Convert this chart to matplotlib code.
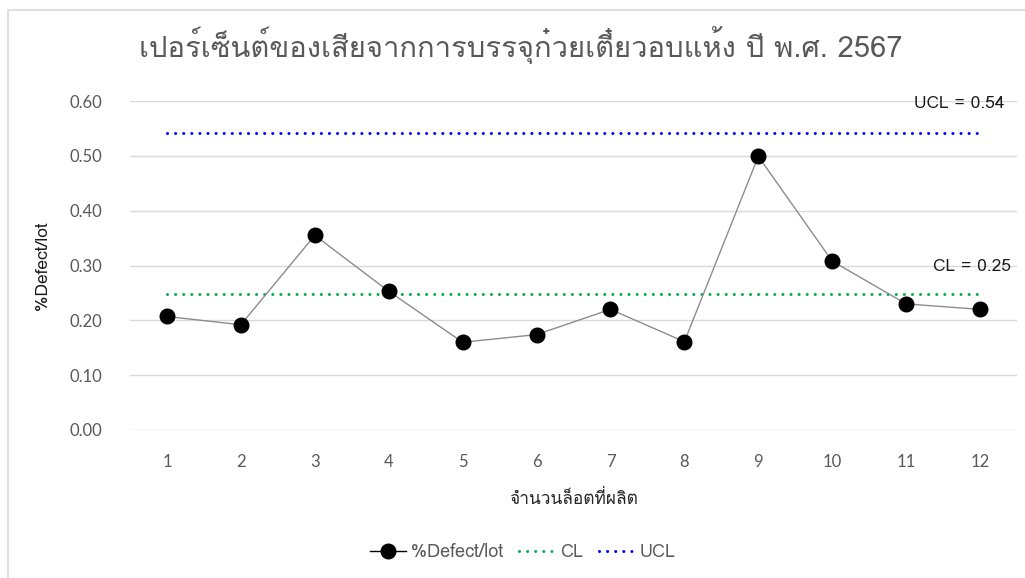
import matplotlib
matplotlib.use("Agg")
import matplotlib.pyplot as plt
from matplotlib import font_manager
from matplotlib.ft2font import FT2Font
from matplotlib.patches import Rectangle
from matplotlib.lines import Line2D

# ---------------- data ----------------
lots = [1, 2, 3, 4, 5, 6, 7, 8, 9, 10, 11, 12]
defect_pct = [0.207, 0.192, 0.355, 0.253, 0.160, 0.174, 0.220, 0.161, 0.499, 0.308, 0.230, 0.220]
cl_value = 0.248
ucl_value = 0.542
y_ticks = [0.0, 0.1, 0.2, 0.3, 0.4, 0.5, 0.6]
title_text = "เปอร์เซ็นต์ของเสียจากการบรรจุก๋วยเตี๋ยวอบแห้ง ปี พ.ศ. 2567"
x_label = "จำนวนล็อตที่ผลิต"
y_label = "%Defect/lot"
series_names = ["%Defect/lot", "CL", "UCL"]
cl_label = "CL = 0.25"
ucl_label = "UCL = 0.54"


def find_thai_family():
    for f in font_manager.fontManager.ttflist:
        try:
            cm = FT2Font(f.fname).get_charmap()
        except Exception:
            continue
        if 0x0E01 in cm and 0x0E35 in cm and 0x0E48 in cm:
            return f.name
    return None


thai = find_thai_family()
fams = ([thai] if thai else []) + ["Noto Sans", "DejaVu Sans"]
plt.rcParams["font.family"] = fams
latin = ["Lato", "DejaVu Sans"]

W, H = 1025, 578
fig = plt.figure(figsize=(W / 100, H / 100), dpi=100)
fig.patch.set_facecolor("white")

# chart frame
fig.patches.append(Rectangle((8 / W, -0.05), 1.1, 1 - 10 / H + 0.05,
                             transform=fig.transFigure, fill=False,
                             edgecolor="#D9D9D9", linewidth=1.2))

ax = fig.add_axes([130 / W, 1 - 430 / H, (1017 - 130) / W, (430 - 101) / H])
ax.set_xlim(0.5, 12.5)
ax.set_ylim(0, 0.6)

for s in ax.spines.values():
    s.set_visible(False)
ax.set_yticks(y_ticks)
ax.set_yticklabels([f"{v:.2f}" for v in y_ticks], family=latin)
ax.set_xticks(lots)
ax.set_xticklabels([str(v) for v in lots], family=latin)
ax.tick_params(axis="both", length=0, labelsize=12, colors="#595959")
ax.tick_params(axis="y", pad=20)
ax.tick_params(axis="x", pad=17)
ax.grid(axis="y", color="#D9D9D9", linewidth=1.0)
ax.set_axisbelow(True)

dots = (0.01, 2.64)
ax.plot([lots[0], lots[-1]], [ucl_value, ucl_value], color="#0000FF", lw=2.2,
        dashes=dots, dash_capstyle="round", zorder=2)
ax.plot([lots[0], lots[-1]], [cl_value, cl_value], color="#00B050", lw=2.2,
        dashes=dots, dash_capstyle="round", zorder=2)
ax.plot(lots, defect_pct, color="#8C8C8C", lw=1.0, marker="o", ms=10.5,
        mfc="black", mec="black", zorder=3)

ax.text(12.33, 0.595, ucl_label, ha="right", va="center", fontsize=12.5, color="#1a1a1a")
ax.text(12.42, 0.298, cl_label, ha="right", va="center", fontsize=12.5, color="#1a1a1a")

ax.set_ylabel(y_label, fontsize=12.5, color="#1a1a1a")
ax.yaxis.set_label_coords(-(130 - 51) / (1017 - 130), 0.5)
ax.set_xlabel(x_label, fontsize=12.5, color="#262626")
ax.xaxis.set_label_coords(0.5, -(490 - 430) / (430 - 101))

fig.text(521 / W, 1 - 45 / H, title_text, ha="center", va="center",
         fontsize=21, color="#595959")

handles = [
    Line2D([], [], color="black", lw=1.0, marker="o", ms=10.5, mfc="black", mec="black"),
    Line2D([], [], color="#00B050", lw=2.2, dashes=dots, dash_capstyle="round"),
    Line2D([], [], color="#0000FF", lw=2.2, dashes=dots, dash_capstyle="round"),
]
fig.legend(handles, series_names, loc="center", bbox_to_anchor=(523 / W, 1 - 552 / H),
           ncol=3, frameon=False, fontsize=13, handlelength=2.0, handletextpad=0.25,
           columnspacing=0.9, labelcolor="#595959")

fig.savefig("out.png", dpi=100)
